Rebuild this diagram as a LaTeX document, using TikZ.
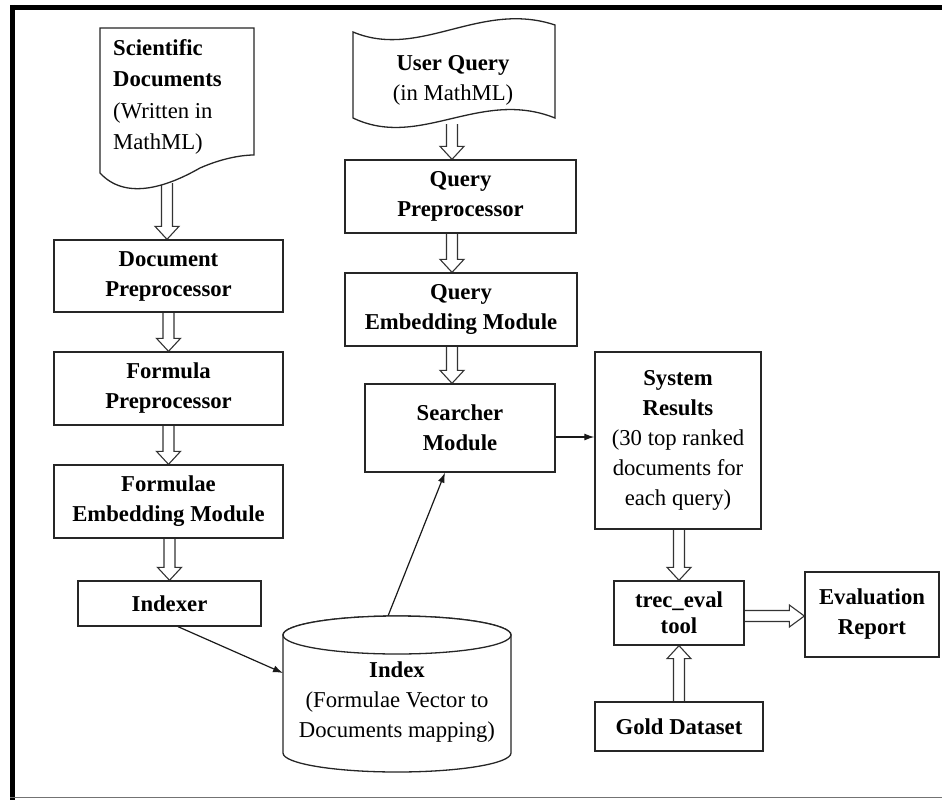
\documentclass[tikz,border=0pt]{standalone}
\usepackage{fontspec}
\setmainfont{Liberation Serif}
\usetikzlibrary{calc,arrows.meta}
\pgfdeclarelayer{bg}
\pgfsetlayers{bg,main}
\newcommand{\hdown}[2]{\draw[harrowline] let \p1=#1, \p2=#2 in (\x2-5.5pt,\y1) -- (\x2-5.5pt,\y2+13pt) -- (\x2-12pt,\y2+13pt) -- (\x2,\y2) -- (\x2+12pt,\y2+13pt) -- (\x2+5.5pt,\y2+13pt) -- (\x2+5.5pt,\y1);}
\newcommand{\hup}[2]{\draw[harrowline] let \p1=#1, \p2=#2 in (\x2-5.5pt,\y1) -- (\x2-5.5pt,\y2-13pt) -- (\x2-12pt,\y2-13pt) -- (\x2,\y2) -- (\x2+12pt,\y2-13pt) -- (\x2+5.5pt,\y2-13pt) -- (\x2+5.5pt,\y1);}
\newcommand{\hright}[2]{\draw[harrowline] let \p1=#1, \p2=#2 in (\x1,\y2+5.5pt) -- (\x2-15pt,\y2+5.5pt) -- (\x2-15pt,\y2+11pt) -- (\x2,\y2) -- (\x2-15pt,\y2-11pt) -- (\x2-15pt,\y2-5.5pt) -- (\x1,\y2-5.5pt);}
\tikzset{
  lbl/.style={font=\fontsize{22.7pt}{30pt}\selectfont, align=center, inner sep=0pt},
  pbox/.style={lbl, draw=black!85, line width=1.3pt, fill=white, font=\fontsize{22.7pt}{30pt}\selectfont\bfseries},
  rbox/.style={pbox, font=\fontsize{22.7pt}{30pt}\selectfont},
  shapeline/.style={draw=black!85, line width=1.3pt, fill=white},
  harrowline/.style={draw=black!80, line width=1.1pt, fill=white, line join=miter},
  thinarrow/.style={draw=black!90, line width=1.2pt, -{Latex[length=10pt,width=7pt]}},
}
\begin{document}
\begin{tikzpicture}[x=1pt,y=-1pt]
\useasboundingbox (0,0) rectangle (942,800);
% frame
\draw[line width=5pt] (10,7.5) -- (942,7.5);
\draw[line width=5pt] (12.5,5) -- (12.5,800);
\draw[black!55, line width=1.5pt] (10,797.5) -- (942,797.5);

% shapes (documents, tape, cylinder)
\draw[shapeline] (100,28) -- (254,28) -- (254,155) .. controls (245,155) and (225,157) .. (200,168) .. controls (165,188) and (125,200) .. (100,173) -- cycle;
\node[lbl, anchor=west, align=left, font=\fontsize{22.7pt}{31.5pt}\selectfont] (sci) at (113,97) {\textbf{Scientific}\\\textbf{Documents}\\(Written in\\MathML)};

\draw[shapeline] (353,32) .. controls (420,60) and (480,0) .. (555,25) -- (555,118) .. controls (480,88) and (420,150) .. (353,118) -- cycle;
\node[lbl] (uq) at (453,80) {\textbf{User Query}\\(in MathML)};

\draw[shapeline] (283,635) -- (283,753) arc[start angle=180, end angle=0, x radius=114, y radius=19] -- (511,635) arc[start angle=0, end angle=-180, x radius=114, y radius=19] -- cycle;
\draw[shapeline] (397,635) ellipse[x radius=114, y radius=19];
\node[lbl] (idx) at (397,702) {\textbf{Index}\\(Formulae Vector to\\Documents mapping)};

% boxes
\node[pbox, minimum width=229pt, minimum height=72pt] (dp) at (168.5,276) {Document\\Preprocessor};
\node[pbox, minimum width=229pt, minimum height=73pt] (fp) at (168.5,388.5) {Formula\\Preprocessor};
\node[pbox, minimum width=229pt, minimum height=73pt] (fe) at (168.5,501.5) {Formulae\\Embedding Module};
\node[pbox, minimum width=183pt, minimum height=45pt] (ix) at (169.5,603.5) {Indexer};
\node[pbox, minimum width=231pt, minimum height=73pt] (qp) at (460.5,196.5) {Query\\Preprocessor};
\node[pbox, minimum width=232pt, minimum height=73pt] (qe) at (461,309.5) {Query\\Embedding Module};
\node[pbox, minimum width=190pt, minimum height=88pt] (sm) at (460,428) {Searcher\\Module};
\node[rbox, minimum width=166pt, minimum height=177pt] (sr) at (678,440.5) {\textbf{System}\\\textbf{Results}\\(30 top ranked\\documents for\\each query)};
\node[pbox, minimum width=130pt, minimum height=64pt, font=\fontsize{22.7pt}{26pt}\selectfont\bfseries] (te) at (679,613) {trec\_eval\\tool};
\node[pbox, minimum width=134pt, minimum height=85pt] (er) at (872,614.5) {Evaluation\\Report};
\node[pbox, minimum width=168pt, minimum height=49pt] (gd) at (679,726.5) {Gold Dataset};

\coordinate (scib) at (167,183);
\coordinate (uqb) at (452,124);
\coordinate (idxL) at (283,673);
\coordinate (idxT) at (388,616);

\begin{pgfonlayer}{bg}
\hdown{(scib)}{($(dp.north)+(-1.5,0)$)}
\hdown{(dp.south)}{(fp.north)}
\hdown{(fp.south)}{(fe.north)}
\hdown{(fe.south)}{(ix.north)}
\hdown{(uqb)}{($(qp.north)+(-8.5,0)$)}
\hdown{($(qp.south)+(-8.5,0)$)}{($(qe.north)+(-9,0)$)}
\hdown{($(qe.south)+(-9,0)$)}{($(sm.north)+(-8,0)$)}
\hdown{(sr.south)}{(te.north)}
\hup{(gd.north)}{(te.south)}
\hright{(te.east)}{($(er.west)+(0,1.5)$)}
\draw[thinarrow] ($(ix.south)+(8.5,0)$) -- (idxL);
\draw[thinarrow] (idxT) -- ($(sm.south)+(-15,0)$);
\draw[thinarrow] ($(sm.east)+(0,9)$) -- ($(sr.west)+(0,-3.5)$);
\end{pgfonlayer}
\end{tikzpicture}
\end{document}
